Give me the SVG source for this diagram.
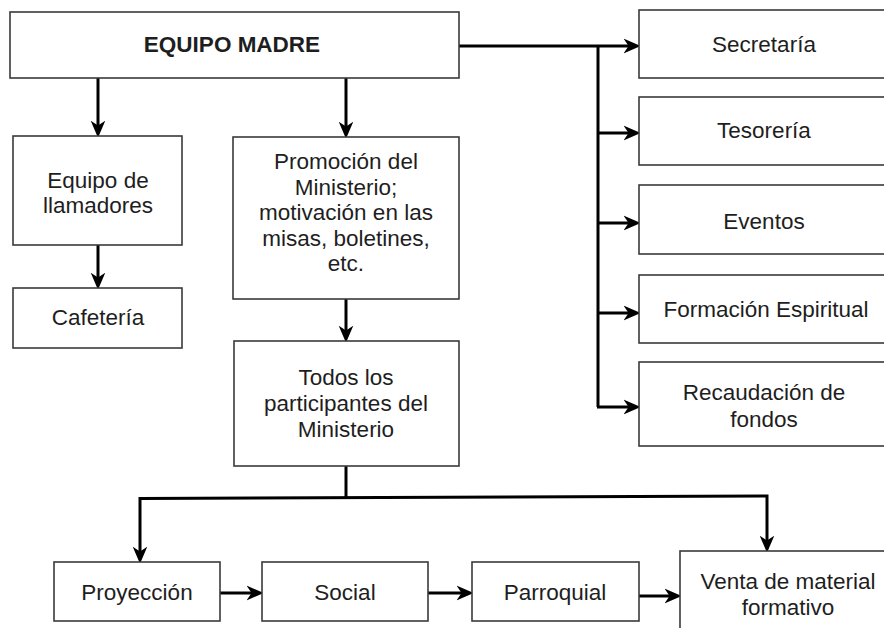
<svg xmlns="http://www.w3.org/2000/svg" width="884" height="628" viewBox="0 0 884 628">
<style>
.box{fill:#fff;stroke:#3a3a3a;stroke-width:1.6}
text{font-family:"Liberation Sans",Arial,sans-serif;font-size:22.5px;fill:#1e1e1e;text-anchor:middle}
.b{font-weight:bold}
.c{fill:none;stroke:#000;stroke-width:3}
</style>
<defs>
<marker id="ah" markerUnits="userSpaceOnUse" markerWidth="17" markerHeight="17" viewBox="0 0 14 14" refX="6" refY="7" orient="auto">
<path d="M0,1 L14,7 L0,13 L4,7 z" fill="#000"/>
</marker>
</defs>
<rect width="884" height="628" fill="#fff"/>
<g id="connectors">
<path class="c" d="M459,46 H631" marker-end="url(#ah)"/>
<path class="c" d="M598,46 V407"/>
<path class="c" d="M598,133 H631" marker-end="url(#ah)"/>
<path class="c" d="M598,223 H631" marker-end="url(#ah)"/>
<path class="c" d="M598,313 H631" marker-end="url(#ah)"/>
<path class="c" d="M597,407 H631" marker-end="url(#ah)"/>
<path class="c" d="M98,78 V128" marker-end="url(#ah)"/>
<path class="c" d="M346,78 V129" marker-end="url(#ah)"/>
<path class="c" d="M98,245 V280" marker-end="url(#ah)"/>
<path class="c" d="M346,299 V333" marker-end="url(#ah)"/>
<path class="c" d="M346,466 V498"/>
<path class="c" d="M140,498.5 L767,496 V543" marker-end="url(#ah)"/>
<path class="c" d="M140,497 V554" marker-end="url(#ah)"/>
<path class="c" d="M220,593 H254" marker-end="url(#ah)"/>
<path class="c" d="M428,593 H464" marker-end="url(#ah)"/>
<path class="c" d="M639,596 H672" marker-end="url(#ah)"/>
</g>
<g id="equipo-madre"><rect class="box" x="10" y="12" width="449" height="66"/><text class="b" x="232" y="52">EQUIPO MADRE</text></g>
<g id="secretaria"><rect class="box" x="639" y="10" width="252" height="68"/><text x="764" y="52">Secretaría</text></g>
<g id="tesoreria"><rect class="box" x="639" y="97" width="252" height="68"/><text x="764" y="138">Tesorería</text></g>
<g id="eventos"><rect class="box" x="639" y="185" width="252" height="69"/><text x="764" y="229">Eventos</text></g>
<g id="formacion"><rect class="box" x="639" y="275" width="252" height="68"/><text x="766" y="317">Formación Espiritual</text></g>
<g id="recaudacion"><rect class="box" x="639" y="362" width="252" height="84"/><text x="764" y="400">Recaudación de</text><text x="764" y="427">fondos</text></g>
<g id="llamadores"><rect class="box" x="13" y="136" width="169" height="109"/><text x="98" y="188">Equipo de</text><text x="98" y="213">llamadores</text></g>
<g id="cafeteria"><rect class="box" x="13" y="288" width="169" height="60"/><text x="98" y="325">Cafetería</text></g>
<g id="promocion"><rect class="box" x="233" y="137" width="226" height="162"/><text x="346" y="169">Promoción del</text><text x="346" y="195">Ministerio;</text><text x="346" y="220">motivación en las</text><text x="346" y="246">misas, boletines,</text><text x="346" y="271">etc.</text></g>
<g id="todos"><rect class="box" x="234" y="341" width="225" height="125"/><text x="346" y="385">Todos los</text><text x="346" y="411">participantes del</text><text x="346" y="437">Ministerio</text></g>
<g id="proyeccion"><rect class="box" x="54" y="562" width="166" height="59"/><text x="137" y="600">Proyección</text></g>
<g id="social"><rect class="box" x="262" y="562" width="166" height="59"/><text x="345" y="600">Social</text></g>
<g id="parroquial"><rect class="box" x="472" y="562" width="167" height="59"/><text x="555" y="600">Parroquial</text></g>
<g id="venta"><rect class="box" x="680" y="551" width="216" height="90"/><text x="788" y="589">Venta de material</text><text x="788" y="615">formativo</text></g>
</svg>
